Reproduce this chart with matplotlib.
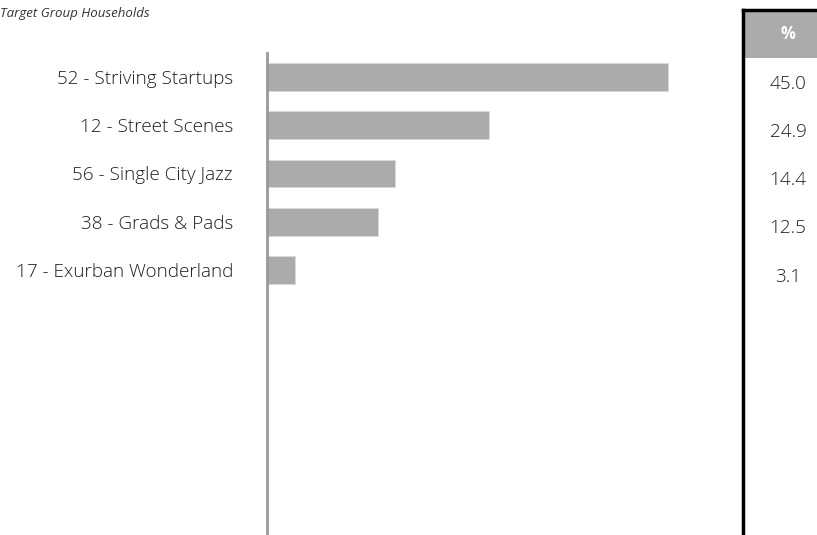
import matplotlib.pyplot as plt
from matplotlib.patches import Rectangle
from matplotlib.lines import Line2D
import matplotlib.transforms as transforms

segments = ['52 - Striving Startups', '12 - Street Scenes', '56 - Single City Jazz',
            '38 - Grads & Pads', '17 - Exurban Wonderland']
pct = [45.0, 24.9, 14.4, 12.5, 3.1]

W, H = 817, 535
fig = plt.figure(figsize=(W / 100, H / 100), dpi=100)
fig.patch.set_facecolor('white')

# bar panel, placed in pixel terms
ax = fig.add_axes([267 / W, 0, 433 / W, 482 / H])
ax.barh(range(len(pct)), pct, height=0.58, color='#ababab', edgecolor='#d9d9d9', linewidth=0.6)
ax.set_ylim(9.5, -0.5)
ax.set_xlim(0, 433 / 8.91)
for s in ['top', 'right', 'bottom']:
    ax.spines[s].set_visible(False)
ax.spines['left'].set_color('#999999')
ax.spines['left'].set_linewidth(2)
ax.set_xticks([])
ax.set_yticks(range(len(segments)))
ax.set_yticklabels(segments, fontsize=13.6, family='Open Sans', weight='light', color='#1e1e1e')
ax.tick_params(axis='y', length=0, pad=24.5)

fig.text(0.0, (H - 13) / H, 'Target Group Households', fontsize=9.5, style='italic',
         family='Open Sans', color='#333333', va='center', ha='left')

# % column on the right
fig.add_artist(Rectangle((744 / W, (H - 58) / H), 1 - 744 / W, 47 / H,
                         transform=fig.transFigure, facecolor='#ababab', edgecolor='none'))
fig.add_artist(Line2D([743 / W, 743 / W], [0, (H - 10) / H], transform=fig.transFigure,
                      color='black', linewidth=2.5))
fig.add_artist(Line2D([743 / W, 1], [(H - 10) / H, (H - 10) / H], transform=fig.transFigure,
                      color='black', linewidth=2.5))
fig.text(788 / W, (H - 34) / H, '%', fontsize=12, weight='bold', family='Open Sans',
         color='white', ha='center', va='center')
trans = transforms.blended_transform_factory(fig.transFigure, ax.transData)
for i, v in enumerate(pct):
    ax.text(788 / W, i + 0.14, f'{v:.1f}', transform=trans, fontsize=13.6, family='Open Sans',
            weight='light', color='#1e1e1e', ha='center', va='center', clip_on=False)

plt.savefig('out.png', dpi=100)
